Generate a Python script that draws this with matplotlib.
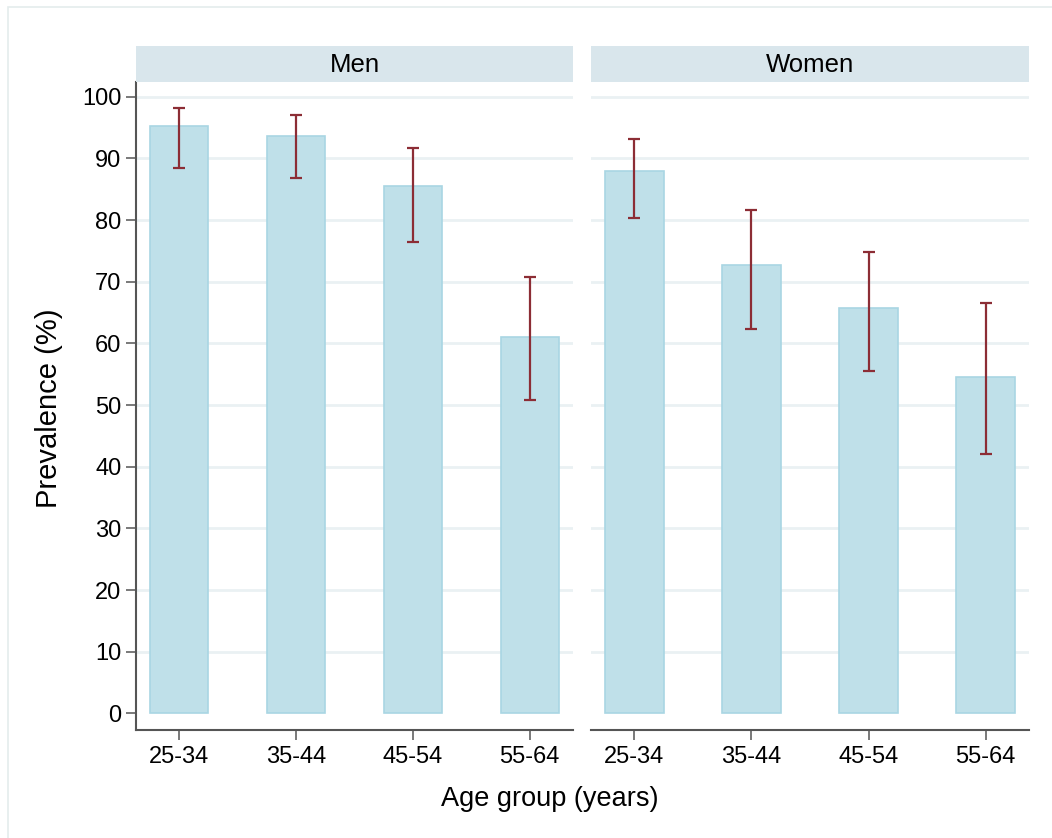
import numpy as np
import matplotlib
matplotlib.use("Agg")
import matplotlib.pyplot as plt
from matplotlib.patches import Rectangle

age_groups = ["25-34", "35-44", "45-54", "55-64"]
panels = ["Men", "Women"]

men_prev = [95.2, 93.7, 85.6, 61.1]
men_lo = [88.4, 86.9, 76.4, 50.9]
men_hi = [98.2, 97.1, 91.7, 70.7]

women_prev = [88.0, 72.8, 65.7, 54.5]
women_lo = [80.4, 62.3, 55.6, 42.0]
women_hi = [93.1, 81.6, 74.8, 66.6]

plt.rcParams['font.family'] = ['Liberation Sans', 'DejaVu Sans']

bar_color = "#BFE0E9"
bar_edge = "#A9D6E3"
err_color = "#8C2D35"
strip_color = "#D9E6EC"
grid_color = "#EAF1F3"
axis_color = "#555555"

W, H = 1052, 838
fig = plt.figure(figsize=(W / 100, H / 100), dpi=100)
fig.set_facecolor("white")

# outer graph region outline (only top and left visible)
fig.patches.append(Rectangle((8 / W, -0.05), 1.1, 1 - 7 / H + 0.05, transform=fig.transFigure,
                             fill=False, edgecolor="#E4ECEC", linewidth=1.2, zorder=0))

ax_bottom = 1 - 730 / H
ax_height = 648 / H
lefts = [136 / W, 591 / W]
widths = [437 / W, 438 / W]

data = [(men_prev, men_lo, men_hi), (women_prev, women_lo, women_hi)]
x = np.arange(len(age_groups))

for i, (name, (prev, lo, hi)) in enumerate(zip(panels, data)):
    ax = fig.add_axes([lefts[i], ax_bottom, widths[i], ax_height])
    prev = np.array(prev)
    yerr = [prev - np.array(lo), np.array(hi) - prev]
    ax.bar(x, prev, width=0.5, color=bar_color, edgecolor=bar_edge, linewidth=1.2, zorder=2)
    ax.errorbar(x, prev, yerr=yerr, fmt="none", ecolor=err_color, elinewidth=1.6,
                capsize=4.4, capthick=1.6, zorder=3)

    ax.set_xlim(-0.37, 3.37)
    ax.set_ylim(-2.7, 102.4)
    ax.set_xticks(x)
    ax.set_xticklabels(age_groups, fontsize=17)
    ax.set_yticks(range(0, 101, 10))
    ax.yaxis.grid(True, color=grid_color, linewidth=2.0, zorder=0)
    ax.set_axisbelow(True)
    ax.get_ygridlines()[0].set_visible(False)

    for s in ["top", "right"]:
        ax.spines[s].set_visible(False)
    ax.spines["bottom"].set_color(axis_color)
    ax.spines["bottom"].set_linewidth(1.5)
    ax.tick_params(axis="x", length=7.5, width=1.1, color=axis_color, pad=4)
    if i == 0:
        ax.spines["left"].set_color(axis_color)
        ax.spines["left"].set_linewidth(1.5)
        ax.tick_params(axis="y", length=7.5, width=1.1, color=axis_color, pad=3, labelsize=17)
    else:
        ax.spines["left"].set_visible(False)
        ax.tick_params(axis="y", left=False, labelleft=False)

    # panel header strip
    hax = fig.add_axes([lefts[i], 1 - 82 / H, widths[i], 36 / H])
    hax.set_facecolor(strip_color)
    for s in hax.spines.values():
        s.set_visible(False)
    hax.set_xticks([])
    hax.set_yticks([])
    hax.text(0.5, (82 - 72.3) / 36, name, ha="center", va="baseline", fontsize=18.5,
             transform=hax.transAxes)

fig.text(549.6 / W, 1 - 806 / H, "Age group (years)", ha="center", va="baseline", fontsize=19.5)
fig.text(57.3 / W, 1 - 408.7 / H, "Prevalence (%)", rotation=90, rotation_mode="anchor",
         ha="center", va="baseline", fontsize=21)

plt.savefig("out.png", dpi=100, facecolor="white")
